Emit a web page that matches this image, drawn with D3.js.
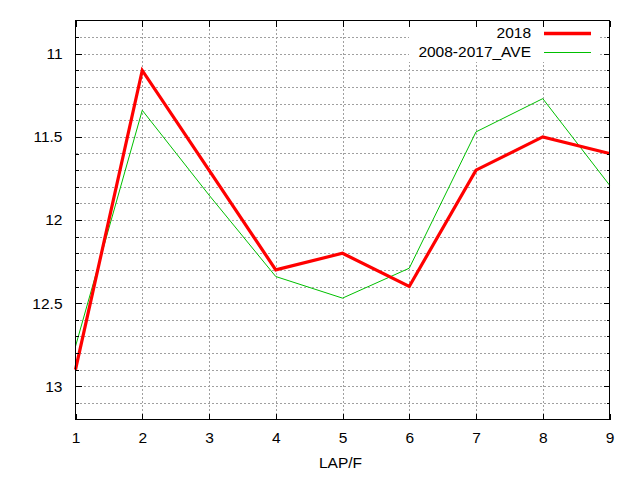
<!DOCTYPE html>
<html>
<head>
<meta charset="utf-8">
<script src="https://cdn.jsdelivr.net/npm/d3@7"></script>
<style>
  html, body { margin: 0; padding: 0; background: #fff; }
  svg { display: block; }
  text { font-family: "Liberation Sans", Arial, sans-serif; font-size: 15.5px; fill: #000; }
</style>
</head>
<body>
<svg id="chart" width="640" height="480"></svg>
<script>
// ---- data ----
const laps = [1, 2, 3, 4, 5, 6, 7, 8, 9];
const series2018 = [12.9, 11.1, 11.7, 12.3, 12.2, 12.4, 11.7, 11.5, 11.6];
const seriesAve = [12.76, 11.34, 11.85, 12.34, 12.47, 12.29, 11.47, 11.27, 11.79];
const seriesNames = ["2018", "2008-2017_AVE"];
const yMajorTicks = [11, 11.5, 12, 12.5, 13];
const yMinorTicks = [10.9, 11.0, 11.1, 11.2, 11.3, 11.4, 11.5, 11.6, 11.7, 11.8, 11.9, 12.0,
                     12.1, 12.2, 12.3, 12.4, 12.5, 12.6, 12.7, 12.8, 12.9, 13.0, 13.1];
const xLabel = "LAP/F";

// ---- layout ----
const pLeft = 75.5, pRight = 609.5, pTop = 20.5, pBottom = 419.5;
const svg = d3.select("#chart");

const x = d3.scaleLinear().domain([1, 9]).range([pLeft, pRight]);
const y = d3.scaleLinear().domain([10.8, 13.2]).range([pTop, pBottom]);

// grid
const grid = svg.append("g").attr("shape-rendering", "crispEdges")
  .attr("stroke", "#a0a0a0").attr("stroke-width", 1).attr("stroke-dasharray", "2,2");
grid.selectAll("line.h").data(yMinorTicks).join("line").attr("class", "h")
  .attr("x1", pLeft).attr("x2", pRight)
  .attr("y1", d => Math.round(y(d)) + 0.5).attr("y2", d => Math.round(y(d)) + 0.5);
grid.selectAll("line.v").data(laps.slice(1, -1)).join("line").attr("class", "v")
  .attr("y1", pTop).attr("y2", pBottom)
  .attr("x1", d => Math.round(x(d)) + 0.5).attr("x2", d => Math.round(x(d)) + 0.5);

// opaque key background
svg.append("rect").attr("x", 409).attr("y", pTop + 0.5).attr("width", 190).attr("height", 41)
  .attr("fill", "#fff");

// data lines
const line = d3.line().x((d, i) => x(laps[i])).y(d => y(d));
svg.append("path").datum(seriesAve).attr("d", line)
  .attr("fill", "none").attr("stroke", "#00c000").attr("stroke-width", 1);
svg.append("path").datum(series2018).attr("d", line)
  .attr("fill", "none").attr("stroke", "#ff0000").attr("stroke-width", 3.2)
  .attr("stroke-linejoin", "miter");

// axes (ticks inward)
function styleAxis(g) {
  g.select(".domain").remove();
  g.selectAll(".tick line").attr("stroke", "#000").attr("shape-rendering", "crispEdges");
  g.selectAll(".tick text").attr("font-size", null).attr("font-family", null).attr("fill", "#000");
}
const yMinorOnly = yMinorTicks.filter(v => !yMajorTicks.some(m => Math.abs(m - v) < 1e-9));
// left major with labels
svg.append("g").attr("transform", `translate(${pLeft},0)`)
  .call(d3.axisLeft(y).tickValues(yMajorTicks).tickSize(-6).tickPadding(13).tickFormat(d3.format("~g")))
  .call(styleAxis);
// left minor
svg.append("g").attr("transform", `translate(${pLeft},0)`)
  .call(d3.axisLeft(y).tickValues(yMinorOnly).tickSize(-3).tickFormat(""))
  .call(styleAxis);
// right mirrored
svg.append("g").attr("transform", `translate(${pRight},0)`)
  .call(d3.axisRight(y).tickValues(yMajorTicks).tickSize(-6).tickFormat(""))
  .call(styleAxis);
svg.append("g").attr("transform", `translate(${pRight},0)`)
  .call(d3.axisRight(y).tickValues(yMinorOnly).tickSize(-3).tickFormat(""))
  .call(styleAxis);
// bottom with labels
svg.append("g").attr("transform", `translate(0,${pBottom})`)
  .call(d3.axisBottom(x).tickValues(laps).tickSize(-6).tickPadding(12).tickFormat(d3.format("d")))
  .call(styleAxis);
// top mirrored
svg.append("g").attr("transform", `translate(0,${pTop})`)
  .call(d3.axisTop(x).tickValues(laps).tickSize(-6).tickFormat(""))
  .call(styleAxis);

// border
svg.append("rect").attr("x", pLeft).attr("y", pTop).attr("width", pRight - pLeft).attr("height", pBottom - pTop)
  .attr("fill", "none").attr("stroke", "#000").attr("stroke-width", 1).attr("shape-rendering", "crispEdges");

// x label
svg.append("text").attr("x", (pLeft + pRight) / 2 - 2).attr("y", 463).attr("dy", "0.35em")
  .attr("text-anchor", "middle").text(xLabel);

// legend
const legendColors = ["#ff0000", "#00c000"];
const legendWidths = [3.5, 1];
const legendY = [33, 52];
seriesNames.forEach((name, i) => {
  svg.append("text").attr("x", 531).attr("y", legendY[i]).attr("dy", "0.35em")
    .attr("text-anchor", "end").text(name);
  svg.append("line").attr("x1", 544).attr("x2", 591)
    .attr("y1", legendY[i] + 0.5).attr("y2", legendY[i] + 0.5)
    .attr("stroke", legendColors[i]).attr("stroke-width", legendWidths[i]);
});
</script>
</body>
</html>
